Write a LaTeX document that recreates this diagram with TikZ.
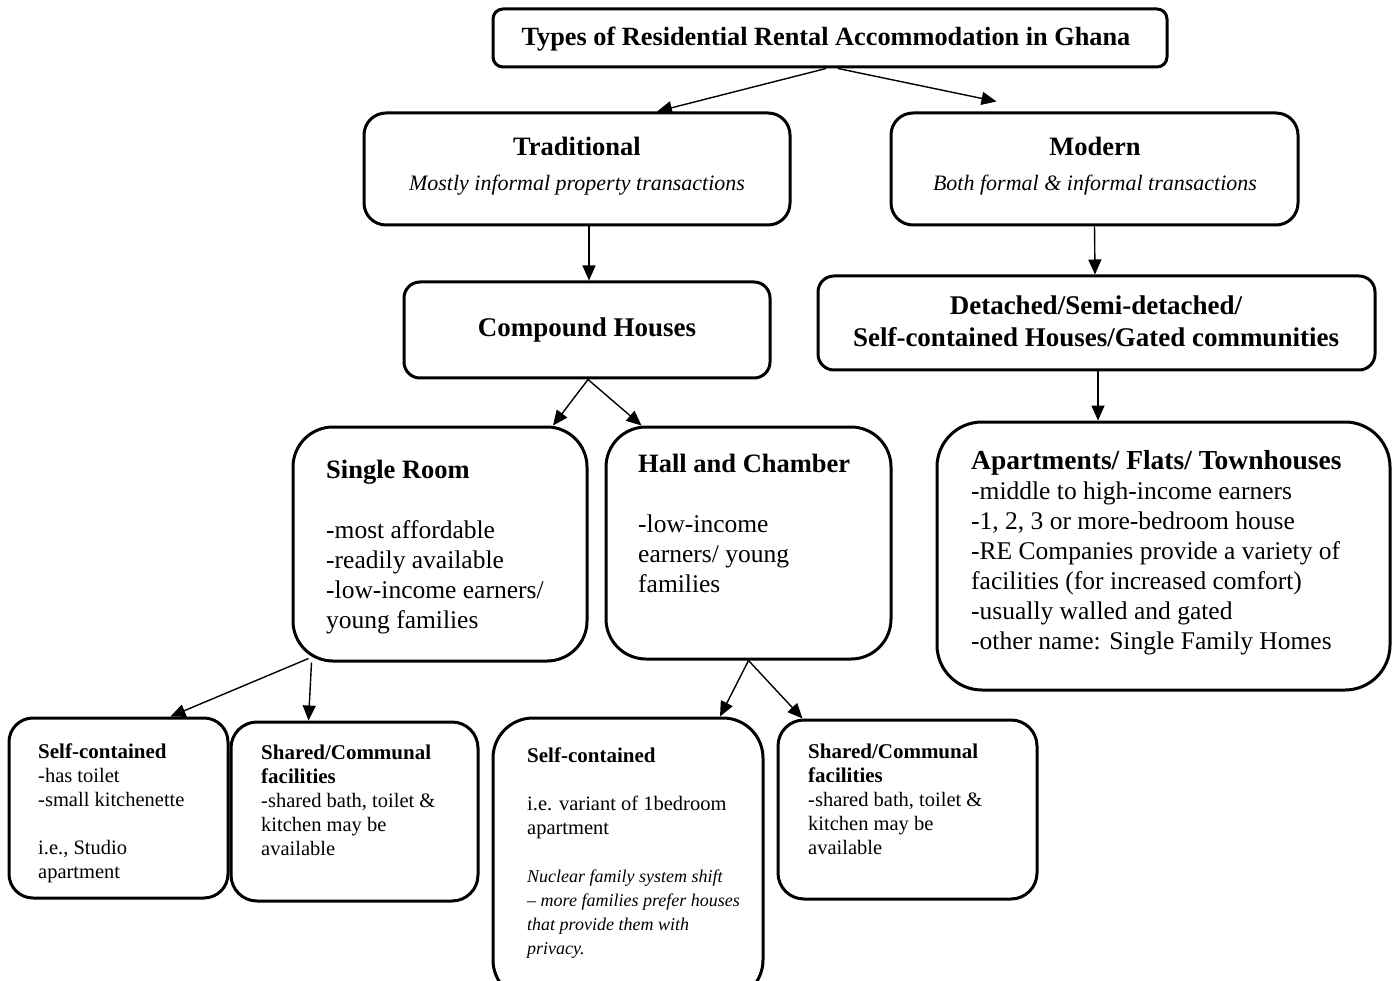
\documentclass[tikz,border=0pt]{standalone}
\usepackage{fontspec}
\setmainfont{Liberation Serif}
\usetikzlibrary{arrows.meta,calc}
% stacked lines of text; the baseline is that of the first row
\newcommand{\rows}[2][l]{\begin{tabular}[t]{@{}#1@{}}#2\end{tabular}}
\newcommand{\hdfont}{\bfseries\fontsize{26.5}{30}\selectfont}
\newcommand{\smhd}{\bfseries\fontsize{21}{24}\selectfont}
\newcommand{\smit}{\itshape\fontsize{18}{24}\selectfont}

\begin{document}
\begin{tikzpicture}[x=1pt,y=-1pt,
  box/.style={draw, line width=3pt, rounded corners=#1, inner sep=0pt},
  box/.default=20pt,
  link/.style={-{Triangle[length=15pt,width=13pt]}, line width=1.4pt},
  big/.style={font=\fontsize{25.5}{30}\selectfont, inner sep=0pt},
  small/.style={font=\fontsize{20.5}{24}\selectfont, inner sep=0pt},
  hd/.style={font=\hdfont, inner sep=0pt},
  sub/.style={font=\itshape\fontsize{22}{26}\selectfont, inner sep=0pt},
]
\path[fill=white] (0,0) rectangle (1392,981);
\useasboundingbox (0,0) rectangle (1392,981);

% ---- boxes ----
\node[box=10pt, minimum width=674pt, minimum height=58pt] (title) at (830,38) {};
\node[box=22pt, minimum width=426pt, minimum height=112pt] (trad) at (577,169) {};
\node[box=22pt, minimum width=407pt, minimum height=112pt] (modern) at (1094.5,169) {};
\node[box=16pt, minimum width=366pt, minimum height=96pt] (compound) at (587,330) {};
\node[box=16pt, minimum width=557pt, minimum height=94pt] (detached) at (1096.5,323) {};
\node[box=40pt, minimum width=294pt, minimum height=234pt] (single) at (440,544) {};
\node[box=40pt, minimum width=285pt, minimum height=232pt] (hall) at (748.5,543) {};
\node[box=45pt, minimum width=453pt, minimum height=268pt] (apart) at (1163.5,556) {};
\node[box=24pt, minimum width=219pt, minimum height=180pt] (sc1) at (118.5,808) {};
\node[box=26pt, minimum width=247pt, minimum height=179pt] (sh1) at (354.5,811.5) {};
\node[box=40pt, minimum width=270pt, minimum height=282pt] (sc2) at (628,859) {};
\node[box=26pt, minimum width=259pt, minimum height=179pt] (sh2) at (907.5,809.5) {};

% ---- texts ----
\node[hd, font=\bfseries\fontsize{26.3}{30}\selectfont, anchor=base] (titletext) at (826,46)
  {Types of Residential Rental Accommodation in Ghana};

\node[hd, anchor=base] (tradhead) at (577,156) {Traditional};
\node[sub, anchor=base] (tradsub) at (577,191) {Mostly informal property transactions};

\node[hd, anchor=base] (modhead) at (1095,156) {Modern};
\node[sub, anchor=base] (modsub) at (1095,191) {Both formal \& informal transactions};

\node[hd, font=\bfseries\fontsize{27}{32}\selectfont, anchor=base] (comptext) at (587,337) {Compound Houses};

\node[hd, font=\bfseries\fontsize{27}{32}\selectfont, anchor=base] (dettext) at (1096,315)
  {\rows[c]{Detached/Semi-detached/\\ Self-contained Houses/Gated communities}};

\node[big, anchor=base west] (singletext) at (326,478)
  {\rows{{\hdfont Single Room}\\ \\ -most affordable\\ -readily available\\
         -low-income earners/\\ young families}};

\node[big, anchor=base west] (halltext) at (638,472)
  {\rows{{\hdfont Hall and Chamber}\\ \\ -low-income\\ earners/ young\\ families}};

\node[big, anchor=base west] (aparttext) at (971,469)
  {\rows{{\bfseries\fontsize{27.5}{30}\selectfont Apartments/ Flats/ Townhouses}\\
         -middle to high-income earners\\
         -1, 2, 3 or more-bedroom house\\
         -RE Companies provide a variety of\\
         facilities (for increased comfort)\\
         -usually walled and gated\\
         -other name: Single Family Homes}};

\node[small, anchor=base west] (sc1text) at (38,758)
  {\rows{{\smhd Self-contained}\\ -has toilet\\ -small kitchenette\\ \\ i.e., Studio\\ apartment}};

\node[small, anchor=base west] (sh1text) at (261,759)
  {\rows{{\smhd Shared/Communal}\\ {\smhd facilities}\\ -shared bath, toilet \&\\
         kitchen may be\\ available}};

\node[small, anchor=base west] (sc2text) at (527,762)
  {\rows{{\smhd Self-contained}\\ \\ i.e. variant of 1bedroom\\ apartment\\ \\
         {\smit Nuclear family system shift}\\
         {\smit -- more families prefer houses}\\
         {\smit that provide them with}\\
         {\smit privacy.}}};

\node[small, anchor=base west] (sh2text) at (808,758)
  {\rows{{\smhd Shared/Communal}\\ {\smhd facilities}\\ -shared bath, toilet \&\\
         kitchen may be\\ available}};

% ---- connectors ----
\draw[link] ($(title.south)+(-4,0)$) -- ($(trad.north)+(80,0)$);
\draw[link] ($(title.south)+(8,0)$) -- ($(modern.north west)+(107,-10)$);
\draw[link] ($(trad.south)+(12,0)$) -- ($(compound.north)+(2,0)$);
\draw[link] (modern.south) -- ($(detached.north)+(-1.5,0)$);
\draw[link] ($(compound.south)+(1,0)$) -- ($(single.north)+(113,0)$);
\draw[link] ($(compound.south)+(1,0)$) -- ($(hall.north)+(-107,0)$);
\draw[link] ($(detached.south)+(1.5,0)$) -- ($(apart.north)+(-65.5,0)$);
\draw[link] ($(single.south west)+(17,-4)$) -- ($(sc1.north)+(52,0)$);
\draw[link] ($(single.south west)+(20,0)$) -- ($(sh1.north)+(-46,0)$);
\draw[link] (hall.south) -- ($(sc2.north)+(92,0)$);
\draw[link] (hall.south) -- ($(sh2.north)+(-105,0)$);
\end{tikzpicture}
\end{document}
